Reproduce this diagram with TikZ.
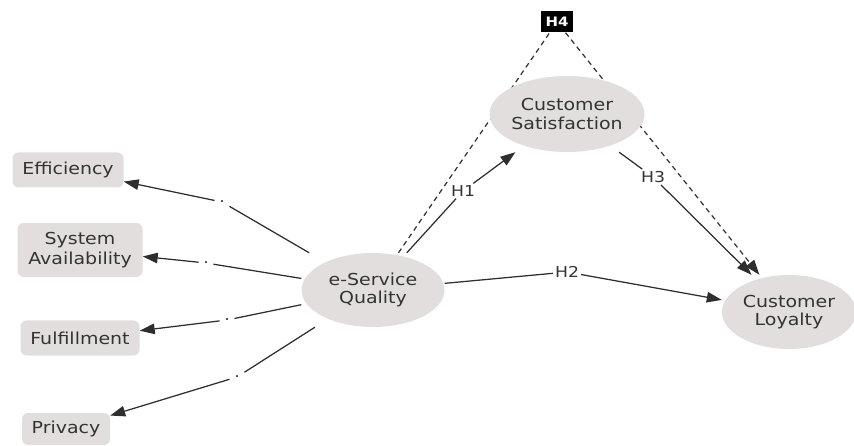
\documentclass[tikz,border=0pt]{standalone}
\usepackage{fontspec}
\setmainfont{DejaVu Sans}[FakeStretch=1.15]
\usetikzlibrary{arrows.meta,backgrounds}
\definecolor{bgfill}{HTML}{E2DEDE}
\definecolor{linec}{HTML}{2E2E2E}
\definecolor{txtc}{HTML}{333333}
\tikzset{
  % latent variables: rectangular outline (used for clipping connectors), ellipse filled inside
  latent/.style 2 args={rectangle, inner sep=0pt, align=center, text=txtc,
    minimum width=#1, minimum height=#2,
    font=\fontsize{16.5}{18.5}\selectfont,
    path picture={\fill[bgfill] (path picture bounding box.center)
      ellipse [x radius=#1/2, y radius=#2/2];}},
  indicator/.style 2 args={rectangle, rounded corners=6pt, fill=bgfill, inner sep=0pt,
    align=center, text=txtc, minimum width=#1, minimum height=#2,
    font=\fontsize{16.5}{19.5}\selectfont},
  pathlbl/.style={inner sep=2pt, text=txtc, font=\fontsize{15}{16}\selectfont},
  dotlbl/.style={inner sep=4.5pt, text=txtc, font=\fontsize{15}{16}\selectfont},
  hypbox/.style={fill=black, text=white, inner sep=0pt, minimum width=32pt,
    minimum height=21pt, font=\bfseries\fontsize{13}{14}\selectfont},
  tip/.style={-{Triangle[length=15pt,width=10.5pt]}},
  conn/.style={draw=linec, line width=1.25pt},
  arr/.style={conn, tip},
  mediation/.style={draw=linec, line width=1.2pt, dash pattern=on 5pt off 4pt},
}
\begin{document}
\begin{tikzpicture}[x=1pt,y=-1pt]
\useasboundingbox (0,0) rectangle (854,446);

% constructs
\node[latent={143pt}{74pt}] (esq) at (373,290) {e-Service\\Quality};
\node[latent={155pt}{76pt}] (cs) at (567,114) {Customer\\Satisfaction};
\node[latent={134pt}{74pt}] (cl) at (789,312) {Customer\\Loyalty};

% dimensions of e-service quality
\node[indicator={111pt}{35pt}] (eff) at (68,170) {Efficiency};
\node[indicator={125pt}{54pt}] (sa) at (80,250) {System\\Availability};
\node[indicator={119pt}{35pt}] (ff) at (80,338) {Fulfillment};
\node[indicator={88pt}{32pt}] (pr) at (66,429) {Privacy};

% mediation hypothesis
\node[hypbox] (h4) at (557,22) {H4};

% path labels
\node[pathlbl] (h1) at (463,191) {H1};
\node[pathlbl] (h2) at (567,272) {H2};
\node[pathlbl] (h3) at (653,177) {H3};
\node[dotlbl] (d1) at (222,202) {.};
\node[dotlbl] (d2) at (206,263) {.};
\node[dotlbl] (d3) at (227,320) {.};
\node[dotlbl] (d4) at (237,377) {.};

% indirect path, passing behind the mediator
\begin{pgfonlayer}{background}
  \draw[mediation] (esq) -- (h4);
  \draw[mediation, tip] (h4) -- (cl);
\end{pgfonlayer}

% structural paths
\draw[conn] (esq) -- (h1);
\draw[arr] (h1) -- (cs);
\draw[conn] (esq) -- (h2);
\draw[arr] (h2) -- (cl);
\draw[conn] (cs) -- (h3);
\draw[arr] (h3) -- (cl);

% measurement paths
\draw[conn] (esq) -- (d1);
\draw[arr] (d1) -- (eff);
\draw[conn] (esq) -- (d2);
\draw[arr] (d2) -- (sa);
\draw[conn] (esq) -- (d3);
\draw[arr] (d3) -- (ff);
\draw[conn] (esq) -- (d4);
\draw[arr] (d4) -- (pr);
\end{tikzpicture}
\end{document}
